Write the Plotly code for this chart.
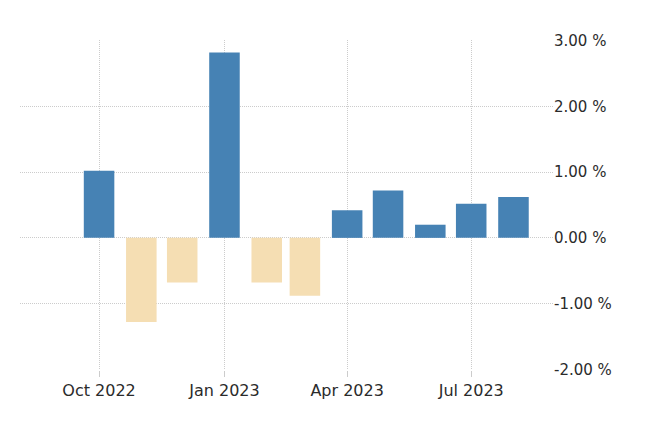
import plotly.graph_objects as go

months = ["2022-10-01", "2022-11-01", "2022-12-01", "2023-01-01", "2023-02-01",
          "2023-03-01", "2023-04-01", "2023-05-01", "2023-06-01", "2023-07-01",
          "2023-08-01"]
values = [1.02, -1.28, -0.68, 2.82, -0.68, -0.88, 0.42, 0.72, 0.20, 0.52, 0.62]
y_ticks = [-2, -1, 0, 1, 2, 3]
y_tick_labels = ["-2.00 %", "-1.00 %", "0.00 %", "1.00 %", "2.00 %", "3.00 %"]

POS_COLOR = "#4682B4"
NEG_COLOR = "#F5DEB3"
bar_colors = [POS_COLOR if v >= 0 else NEG_COLOR for v in values]

fig = go.Figure(go.Bar(x=months, y=values, marker=dict(color=bar_colors, line=dict(width=0))))

FONT = "DejaVu Sans"
TXT = "#2b2b2b"
GRID = "#cccccc"
fig.update_layout(
    width=642, height=425,
    margin=dict(l=12, r=97, t=32, b=63),
    paper_bgcolor="white", plot_bgcolor="white",
    showlegend=False,
    font=dict(family=FONT, size=16, color=TXT),
    bargap=0.2,
)
fig.update_xaxes(
    type="date",
    range=["2022-08-04", "2023-08-30"],
    tick0="2022-10-01", dtick="M3", tickformat="%b %Y",
    showgrid=True, gridcolor=GRID, griddash="1px,1px", gridwidth=1,
    ticks="outside", ticklen=6, tickcolor=GRID,
    showline=False, zeroline=False,
    tickfont=dict(family=FONT, size=16, color=TXT),
)
fig.update_yaxes(
    side="right",
    range=[-2.01, 3.01],
    tickmode="array", tickvals=y_ticks, ticktext=y_tick_labels,
    showgrid=True, gridcolor=GRID, griddash="1px,1px", gridwidth=1,
    zeroline=False, showline=False, ticks="",
    tickfont=dict(family=FONT, size=15, color=TXT),
)

fig.write_html("out.html")
